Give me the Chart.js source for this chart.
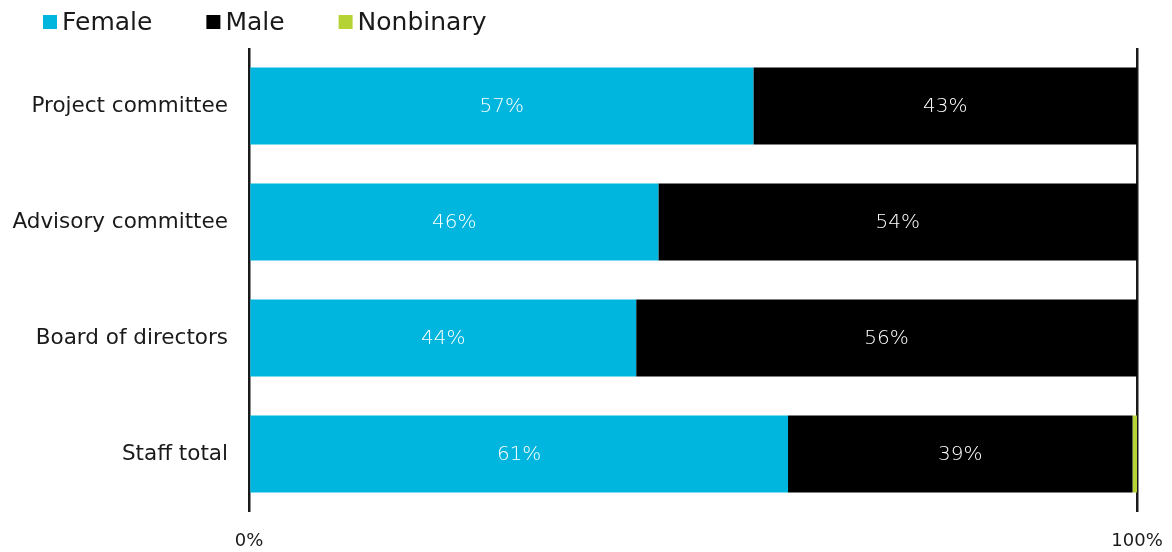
<!DOCTYPE html>
<html>
<head>
<meta charset="utf-8">
<script src="https://cdn.jsdelivr.net/npm/chart.js@4/dist/chart.umd.min.js"></script>
<style>
  html, body { margin: 0; padding: 0; background: #fff; }
  #wrap { width: 1172px; height: 552px; }
</style>
</head>
<body>
<div id="wrap"><canvas id="myChart" width="1172" height="552"></canvas></div>
<script>
const FONT = "'DejaVu Sans', sans-serif";

const categories = ["Project committee", "Advisory committee", "Board of directors", "Staff total"];
const female = [56.8, 46.1, 43.6, 60.7];
const male = [43.2, 53.9, 56.4, 38.8];
const nonbinary = [0, 0, 0, 0.5];
const seriesNames = ["Female", "Male", "Nonbinary"];
const seriesColors = ["#00b5de", "#000000", "#b5d334"];
const xTicks = [0, 100];

// labels inside the bars (white, rounded %)
const barLabels = {
  id: "barLabels",
  afterDatasetsDraw(chart) {
    const ctx = chart.ctx;
    ctx.save();
    ctx.fillStyle = "#ffffff";
    ctx.font = "200 20px " + FONT;
    ctx.textAlign = "center";
    ctx.textBaseline = "middle";
    chart.data.datasets.forEach((ds, i) => {
      if (i === 2) return;
      chart.getDatasetMeta(i).data.forEach((bar, j) => {
        const v = ds.data[j];
        if (!v) return;
        const cx = (bar.x + bar.base) / 2;
        ctx.fillText(Math.round(v) + "%", cx, bar.y + 1);
      });
    });
    ctx.restore();
  },
};

// legend drawn at top left
const topLegend = {
  id: "topLegend",
  afterDraw(chart) {
    const ctx = chart.ctx;
    ctx.save();
    ctx.font = "25px " + FONT;
    ctx.textBaseline = "middle";
    ctx.textAlign = "left";
    let x = 43;
    const y = 22;
    chart.data.datasets.forEach((ds) => {
      ctx.fillStyle = ds.backgroundColor;
      ctx.fillRect(x, y - 7, 14, 14);
      ctx.fillStyle = "#1a1a1a";
      ctx.fillText(ds.label, x + 19, y + 1);
      x += 19 + ctx.measureText(ds.label).width + 54;
    });
    ctx.restore();
  },
};

new Chart(document.getElementById("myChart"), {
  type: "bar",
  data: {
    labels: categories,
    datasets: [
      { label: seriesNames[0], data: female, backgroundColor: seriesColors[0] },
      { label: seriesNames[1], data: male, backgroundColor: seriesColors[1] },
      { label: seriesNames[2], data: nonbinary, backgroundColor: seriesColors[2] },
    ],
  },
  options: {
    indexAxis: "y",
    responsive: false,
    animation: false,
    barPercentage: 1,
    categoryPercentage: 0.664,
    layout: { padding: { top: 48, right: 35, bottom: 0, left: 0 } },
    plugins: {
      legend: { display: false },
      tooltip: { enabled: false },
    },
    scales: {
      x: {
        stacked: true,
        min: 0,
        max: 100,
        afterBuildTicks: (scale) => {
          scale.ticks = xTicks.map((v) => ({ value: v }));
        },
        afterFit: (scale) => {
          scale.height = 40;
          scale.paddingLeft = 0;
          scale.paddingRight = 0;
        },
        grid: { color: "#1a1a1a", lineWidth: 2.5, drawTicks: false },
        border: { display: false },
        ticks: {
          padding: 19,
          color: "#1a1a1a",
          font: { family: FONT, size: 18 },
          callback: (v) => v + "%",
        },
      },
      y: {
        stacked: true,
        afterFit: (scale) => {
          scale.width = 249;
          scale.paddingTop = 0;
          scale.paddingBottom = 0;
        },
        grid: { display: false },
        border: { display: false },
        ticks: {
          padding: 13,
          color: "#1a1a1a",
          font: { family: FONT, size: 21.5 },
        },
      },
    },
  },
  plugins: [barLabels, topLegend],
});
</script>
</body>
</html>
